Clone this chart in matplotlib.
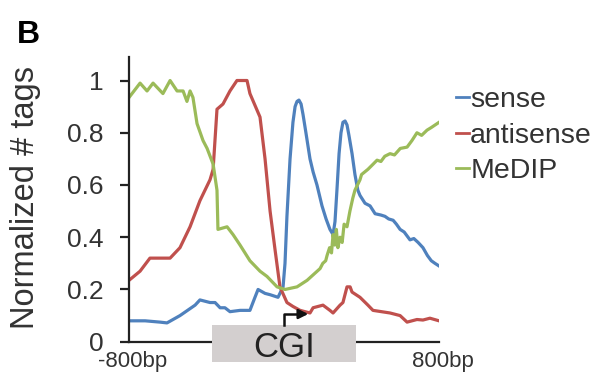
import matplotlib
matplotlib.use('Agg')
import matplotlib.pyplot as plt
from matplotlib.patches import Rectangle
from matplotlib.transforms import ScaledTranslation

plt.rcParams['font.family'] = ['Liberation Sans', 'DejaVu Sans']

# profile around CGI, position in bp
sense_x = [-800, -717, -640, -604, -537, -459, -434, -382, -356, -330, -305, -279,
           -227, -176, -150, -134, -98, -72, -31, -5, 5, 15, 31, 46, 57, 67, 77, 88,
           98, 113, 134, 150, 170, 196, 217, 237, 253, 263, 273, 284, 294, 304, 315,
           325, 335, 351, 366, 381, 392, 418, 444, 470, 500, 521, 540, 563, 580,
           599, 620, 650, 670, 692, 717, 740, 760, 779, 800]
sense_y = [0.08, 0.08, 0.075, 0.072, 0.10, 0.14, 0.16, 0.15, 0.15, 0.13, 0.13, 0.115,
           0.12, 0.12, 0.17, 0.20, 0.185, 0.18, 0.17, 0.21, 0.30, 0.48, 0.70, 0.84,
           0.90, 0.92, 0.925, 0.91, 0.87, 0.80, 0.70, 0.65, 0.60, 0.52, 0.47, 0.43,
           0.41, 0.46, 0.58, 0.72, 0.80, 0.84, 0.845, 0.83, 0.79, 0.72, 0.64, 0.58,
           0.56, 0.53, 0.52, 0.49, 0.485, 0.48, 0.47, 0.465, 0.45, 0.43, 0.42, 0.39,
           0.395, 0.38, 0.36, 0.33, 0.31, 0.30, 0.29]

anti_x = [-800, -743, -692, -640, -588, -537, -485, -434, -408, -382, -366, -346,
          -315, -279, -243, -191, -176, -124, -98, -72, -46, -21, 15, 46, 83, 134,
          150, 201, 237, 253, 289, 304, 325, 341, 351, 392, 433, 459, 547, 599,
          635, 686, 717, 753, 800]
anti_y = [0.235, 0.27, 0.32, 0.32, 0.32, 0.36, 0.44, 0.54, 0.58, 0.62, 0.66, 0.89,
          0.91, 0.96, 1.0, 1.0, 0.95, 0.86, 0.70, 0.50, 0.35, 0.21, 0.15, 0.135,
          0.12, 0.11, 0.13, 0.14, 0.12, 0.11, 0.14, 0.15, 0.21, 0.21, 0.19, 0.17,
          0.14, 0.12, 0.11, 0.10, 0.075, 0.085, 0.083, 0.09, 0.08]

medip_x = [-800, -743, -707, -676, -625, -588, -552, -521, -501, -485, -470, -449,
           -418, -397, -366, -346, -341, -294, -263, -227, -176, -124, -88, -36, 5,
           67, 119, 186, 200, 215, 222, 235, 245, 253, 262, 270, 278, 289, 300, 310,
           325, 340, 355, 366, 392, 400, 433, 460, 480, 500, 520, 547, 570, 600,
           635, 660, 686, 710, 738, 760, 780, 800]
medip_y = [0.935, 0.99, 0.96, 0.99, 0.95, 1.0, 0.96, 0.96, 0.92, 0.96, 0.935, 0.835,
           0.77, 0.74, 0.68, 0.58, 0.43, 0.44, 0.41, 0.37, 0.31, 0.27, 0.25, 0.21, 0.20,
           0.21, 0.235, 0.28, 0.30, 0.31, 0.33, 0.36, 0.34, 0.41, 0.37, 0.43, 0.36,
           0.40, 0.38, 0.45, 0.44, 0.50, 0.55, 0.58, 0.62, 0.64, 0.66, 0.68, 0.695,
           0.69, 0.71, 0.72, 0.715, 0.74, 0.745, 0.77, 0.80, 0.79, 0.81, 0.82, 0.83, 0.84]

cgi_start, cgi_end = -370, 370
xtick_pos = [-800, 800]
xtick_labels = ['-800bp', '800bp']
yticks = [0, 0.2, 0.4, 0.6, 0.8, 1]
ytick_labels = ['0', '0.2', '0.4', '0.6', '0.8', '1']

fig = plt.figure(figsize=(6.06, 3.77), dpi=100)
ax = fig.add_axes([0.2129, 0.0936, 0.5116, 0.7552])

ax.plot(sense_x, sense_y, color='#4F81BD', lw=2.3, label='sense')
ax.plot(anti_x, anti_y, color='#C0504D', lw=2.3, label='antisense')
ax.plot(medip_x, medip_y, color='#9BBB59', lw=2.3, label='MeDIP')

ax.set_xlim(-800, 800)
ax.set_ylim(0, 1.09)
ax.spines['top'].set_visible(False)
ax.spines['right'].set_visible(False)
for s in ['left', 'bottom']:
    ax.spines[s].set_linewidth(1.6)
    ax.spines[s].set_color('#222222')

ax.set_yticks(yticks)
ax.set_yticklabels(ytick_labels)
ax.set_xticks(xtick_pos)
ax.set_xticklabels(xtick_labels)
ax.tick_params(axis='y', length=6.5, width=1.6, pad=12, labelsize=19,
               color='#222222', labelcolor='#333333')
ax.tick_params(axis='x', length=0, pad=7, labelsize=16, labelcolor='#333333')
shift = ScaledTranslation(4 / 100, 0, fig.dpi_scale_trans)
for lab in ax.get_xticklabels():
    lab.set_transform(lab.get_transform() + shift)

# CGI box over the axis line
box = Rectangle((cgi_start, -0.078), cgi_end - cgi_start, 0.142,
                facecolor='#d3cfcf', edgecolor='none', zorder=3, clip_on=False)
ax.add_patch(box)
ax.text(0, -0.0585, 'CGI', ha='center', va='baseline', fontsize=25,
        color='#222222', zorder=4, clip_on=False)
# TSS arrow
ax.plot([0, 0, 90], [0.064, 0.106, 0.106], color='#111111', lw=1.8,
        zorder=4, clip_on=False)
ax.annotate('', xy=(125, 0.106), xytext=(80, 0.106),
            arrowprops=dict(arrowstyle='-|>', color='#111111', lw=1.8,
                            mutation_scale=14, shrinkA=0, shrinkB=0),
            zorder=4, annotation_clip=False)

fig.text(26 / 606, 1 - 197.5 / 377, 'Normalized # tags', rotation=90, ha='center',
         va='center', fontsize=23.5, color='#333333')
fig.text(17 / 606, 1 - 43 / 377, 'B', fontsize=23, fontweight='bold',
         va='baseline', ha='left')

leg = fig.legend(loc='upper left', bbox_to_anchor=(456 / 606, 1 - 87 / 377),
                 frameon=False, fontsize=20.5, handlelength=0.45, handletextpad=0.05,
                 labelspacing=0.34, borderpad=0, borderaxespad=0)
for line in leg.get_lines():
    line.set_linewidth(2)
for t in leg.get_texts():
    t.set_color('#333333')

fig.savefig('out.png', dpi=100)
